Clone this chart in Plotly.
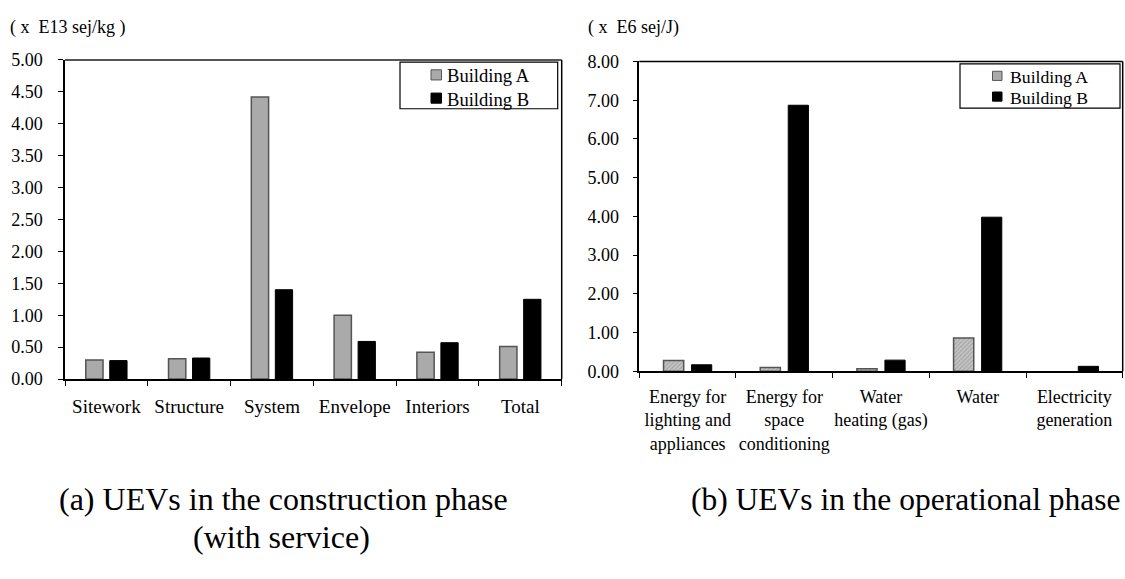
import plotly.graph_objects as go

# Construction-phase UEVs (x E13 sej/kg)
construction_categories = ["Sitework", "Structure", "System", "Envelope", "Interiors", "Total"]
construction_a = [0.30, 0.32, 4.42, 1.00, 0.42, 0.51]
construction_b = [0.29, 0.33, 1.40, 0.59, 0.57, 1.25]

# Operational-phase UEVs (x E6 sej/J); Building A has no electricity generation
operational_categories = [
    "Energy for<br>lighting and<br>appliances",
    "Energy for<br>space<br>conditioning",
    "Water<br>heating (gas)",
    "Water",
    "Electricity<br>generation",
]
operational_a = [0.28, 0.10, 0.07, 0.86, None]
operational_b = [0.17, 6.87, 0.29, 3.98, 0.13]

series_names = ["Building A", "Building B"]
left_ticks = [i * 0.5 for i in range(11)]
right_ticks = [float(i) for i in range(9)]

W, H = 1125, 579
SERIF = "Liberation Serif, Times New Roman, serif"

GREY_FILL = "#aaaaaa"
GREY_EDGE = "#555555"


def px_x(p):
    return p / W


def px_y(p):
    return 1 - p / H


fig = go.Figure()

fig.add_trace(go.Bar(
    x=construction_categories, y=construction_a, name=series_names[0],
    marker=dict(color=GREY_FILL, line=dict(color=GREY_EDGE, width=1.5)),
    xaxis="x", yaxis="y", showlegend=False,
))
fig.add_trace(go.Bar(
    x=construction_categories, y=construction_b, name=series_names[1],
    marker=dict(color="#000000", line=dict(color="#000000", width=1)),
    xaxis="x", yaxis="y", showlegend=False,
))
fig.add_trace(go.Bar(
    x=operational_categories, y=operational_a, name=series_names[0],
    marker=dict(color="#b4b4b4", line=dict(color=GREY_EDGE, width=1.5),
                pattern=dict(shape="/", fgcolor="#808080", bgcolor="#c4c4c4",
                             size=3, solidity=0.35)),
    xaxis="x2", yaxis="y2", showlegend=False,
))
fig.add_trace(go.Bar(
    x=operational_categories, y=operational_b, name=series_names[1],
    marker=dict(color="#000000", line=dict(color="#000000", width=1)),
    xaxis="x2", yaxis="y2", showlegend=False,
))

axis_common = dict(
    showline=True, linecolor="#000000", linewidth=1.5,
    ticks="outside", ticklen=5, tickcolor="#000000", tickwidth=1,
    showgrid=False, zeroline=False, fixedrange=True,
)

fig.update_layout(
    width=W, height=H,
    margin=dict(l=0, r=0, t=0, b=0),
    paper_bgcolor="white", plot_bgcolor="white",
    font=dict(family=SERIF, color="#000000", size=18),
    barmode="group", bargap=0.42, bargroupgap=0.28,
    showlegend=False,
    xaxis=dict(domain=[px_x(65), px_x(561.7)], anchor="y",
               tickson="boundaries", tickfont=dict(size=19), tickangle=0,
               ticklabelstandoff=9, **axis_common),
    yaxis=dict(domain=[px_y(382.3), px_y(51.7)], anchor="x",
               range=[0, 5], tickvals=left_ticks, tickformat=".2f",
               tickfont=dict(size=18), ticklabelstandoff=12, **axis_common),
    xaxis2=dict(domain=[px_x(639.3), px_x(1122.7)], anchor="y2",
                tickson="boundaries", tickfont=dict(size=18), tickangle=0,
                ticklabelstandoff=8, **axis_common),
    yaxis2=dict(domain=[px_y(374.3), px_y(53.3)], anchor="x2",
                range=[0, 8], tickvals=right_ticks, tickformat=".2f",
                tickfont=dict(size=18), ticklabelstandoff=10, **axis_common),
)

# Frame lines on top and right of each plot area
fig.add_shape(type="line", xref="x domain", yref="y domain", x0=0, x1=1, y0=1, y1=1,
              line=dict(color="#555555", width=2))
fig.add_shape(type="line", xref="x domain", yref="y domain", x0=1, x1=1, y0=0, y1=1,
              line=dict(color="#000000", width=1.5))
fig.add_shape(type="line", xref="x2 domain", yref="y2 domain", x0=0, x1=1, y0=1, y1=1,
              line=dict(color="#000000", width=1.5))
fig.add_shape(type="line", xref="x2 domain", yref="y2 domain", x0=1, x1=1, y0=0, y1=1,
              line=dict(color="#000000", width=1.5))


def add_key(box, swatch_x, swatch_size, rows_y, text_x, text_size):
    """Boxed key: one swatch and label per building."""
    x0, y0, x1, y1 = box
    fig.add_shape(type="rect", xref="paper", yref="paper",
                  x0=px_x(x0), x1=px_x(x1), y0=px_y(y1), y1=px_y(y0),
                  line=dict(color="#000000", width=1.2), fillcolor="white")
    swatches = [(GREY_FILL, GREY_EDGE), ("#000000", "#000000")]
    for name, (fill, edge), yc in zip(series_names, swatches, rows_y):
        half = swatch_size / 2
        fig.add_shape(type="rect", xref="paper", yref="paper",
                      x0=px_x(swatch_x), x1=px_x(swatch_x + swatch_size),
                      y0=px_y(yc + half), y1=px_y(yc - half),
                      line=dict(color=edge, width=1), fillcolor=fill)
        fig.add_annotation(text=name, xref="paper", yref="paper",
                           x=px_x(text_x), y=px_y(yc + 1), xanchor="left", yanchor="middle",
                           showarrow=False, font=dict(size=text_size, family=SERIF))


add_key((400, 54, 557.7, 102.3), 431, 10.5, (67.2, 91.3), 445, 18.6)
add_key((960, 55.7, 1120, 101.7), 992.5, 9.5, (68.2, 89.7), 1007.5, 17.7)

# Unit labels above each y axis
fig.add_annotation(text="( x  E13 sej/kg )", xref="paper", yref="paper",
                   x=px_x(8), y=px_y(18), xanchor="left", yanchor="middle",
                   showarrow=False, font=dict(size=18, family=SERIF))
fig.add_annotation(text="( x  E6 sej/J)", xref="paper", yref="paper",
                   x=px_x(586), y=px_y(18), xanchor="left", yanchor="middle",
                   showarrow=False, font=dict(size=18, family=SERIF))

# Panel captions
fig.add_annotation(text="(a) UEVs in the construction phase", xref="paper", yref="paper",
                   x=px_x(57), y=px_y(507), xanchor="left", yanchor="middle",
                   showarrow=False, font=dict(size=32, family=SERIF))
fig.add_annotation(text="(with service)", xref="paper", yref="paper",
                   x=px_x(281.5), y=px_y(546), xanchor="center", yanchor="middle",
                   showarrow=False, font=dict(size=32, family=SERIF))
fig.add_annotation(text="(b) UEVs in the operational phase", xref="paper", yref="paper",
                   x=px_x(1123), y=px_y(507), xanchor="right", yanchor="middle",
                   showarrow=False, font=dict(size=31.5, family=SERIF))

fig.write_html("out.html")
